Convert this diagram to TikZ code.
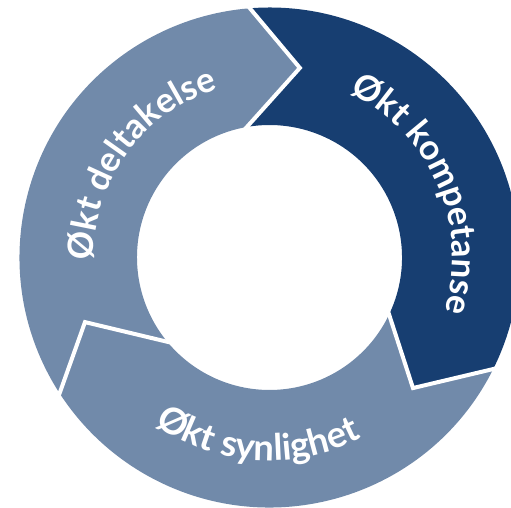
\documentclass[tikz,border=0pt]{standalone}
\usepackage{fontspec}
\newfontfamily\ringfont{Lato}
\newcommand\ringtext{\ringfont\bfseries\fontsize{35}{40}\selectfont}
\newcommand\ringtextb{\ringfont\bfseries\fontsize{36.5}{40}\selectfont}
\usetikzlibrary{decorations.text}
\definecolor{ringlight}{RGB}{113,138,170}
\definecolor{ringdark}{RGB}{23,62,113}
\begin{document}
\begin{tikzpicture}[x=1pt,y=1pt,
  gap/.style={draw=white, line width=4pt, line join=miter, shorten <=-5pt, shorten >=-5pt},
  arclabel/.style={decorate, decoration={text along path, text align=center, text color=white, text={#1}}}]
\useasboundingbox (0,0) rectangle (511,508);
\clip (0,0) rectangle (511,508);
\begin{scope}[shift={(269.5,250.5)}]
  % chevron A (top)
  \coordinate (Ao) at (94.5:250pt);
  \coordinate (At) at (80.9:192pt);
  \coordinate (Ai) at (99.8:132.5pt);
  % chevron B (lower right)
  \coordinate (Bo) at (-26.5:250pt);
  \coordinate (Bt) at (-42.3:194pt);
  \coordinate (Bi) at (-25.5:132.5pt);
  % chevron C (lower left)
  \coordinate (Co) at (212.9:250pt);
  \coordinate (Ct) at (199.3:195.5pt);
  \coordinate (Ci) at (219.5:132.5pt);
  % segments
  \fill[ringdark] (Ao) arc[start angle=94.5, end angle=-26.5, radius=250pt] -- (Bt) -- (Bi)
     arc[start angle=-25.5, end angle=99.8, radius=132.5pt] -- (At) -- cycle;
  \fill[ringlight] (Bo) arc[start angle=-26.5, end angle=-147.1, radius=250pt] -- (Ct) -- (Ci)
     arc[start angle=-140.5, end angle=-25.5, radius=132.5pt] -- (Bt) -- cycle;
  \fill[ringlight] (Co) arc[start angle=212.9, end angle=94.5, radius=250pt] -- (At) -- (Ai)
     arc[start angle=99.8, end angle=219.5, radius=132.5pt] -- (Ct) -- cycle;
  % white gaps
  \draw[gap] (Ao) -- (At) -- (Ai);
  \draw[gap] (Bo) -- (Bt) -- (Bi);
  \draw[gap] (Co) -- (Ct) -- (Ci);
  % labels
  \path[arclabel={|\ringtext|Økt kompetanse}] (83.5:183pt) arc[start angle=83.5, end angle=-36.5, radius=183pt];
  \path[arclabel={|\ringtext|Økt deltakelse}] (204:176pt) arc[start angle=204, end angle=84, radius=176pt];
  \path[arclabel={|\ringtextb|Økt synlighet}] (206.3:203pt) arc[start angle=206.3, end angle=326.3, radius=203pt];
\end{scope}
\end{tikzpicture}
\end{document}
